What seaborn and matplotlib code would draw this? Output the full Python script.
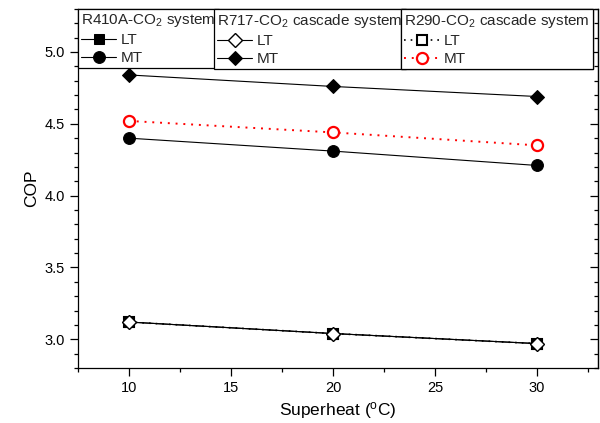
import pandas as pd
import seaborn as sns
import matplotlib.pyplot as plt
from matplotlib.ticker import MultipleLocator

# superheat (degC) and COP
superheat = [10, 20, 30]
r410a_lt = [3.12, 3.04, 2.97]
r410a_mt = [4.40, 4.31, 4.21]
r717_lt = [3.12, 3.04, 2.97]
r717_mt = [4.84, 4.76, 4.69]
r290_lt = [3.12, 3.04, 2.97]
r290_mt = [4.52, 4.44, 4.35]

sns.set_theme(style="ticks")
plt.rcParams['font.family'] = ['Liberation Sans', 'DejaVu Sans']
plt.rcParams['mathtext.fontset'] = 'custom'
plt.rcParams['mathtext.rm'] = 'Liberation Sans'
plt.rcParams['mathtext.it'] = 'Liberation Sans:italic'
plt.rcParams['mathtext.default'] = 'regular'

fig = plt.figure(figsize=(6, 4.23), dpi=100)
ax = fig.add_axes([0.13, 0.13, 0.867, 0.849])

def draw(y, label, **kw):
    sns.lineplot(x=superheat, y=y, ax=ax, label=label, **kw)

draw(r410a_lt, "LT", color="black", lw=0.8, marker="s", markersize=6.5,
     markerfacecolor="black", markeredgecolor="black", zorder=2.2)
draw(r410a_mt, "MT", color="black", lw=0.8, marker="o", markersize=8.5,
     markerfacecolor="black", markeredgecolor="black", zorder=2.2)
draw(r717_lt, "LT", color="black", lw=0.8, marker="D", markersize=7,
     markerfacecolor="white", markeredgecolor="black", markeredgewidth=1.0, zorder=2.3)
draw(r717_mt, "MT", color="black", lw=0.8, marker="D", markersize=7.5,
     markerfacecolor="black", markeredgecolor="black", zorder=2.2)
draw(r290_lt, "LT", color="black", lw=1.2, linestyle=(0, (1, 3)), marker="s", markersize=6.5,
     markerfacecolor="white", markeredgecolor="black", markeredgewidth=1.5, zorder=2.1)
draw(r290_mt, "MT", color="red", lw=1.4, linestyle=(0, (1, 3)), marker="o", markersize=8,
     markerfacecolor="white", markeredgecolor="red", markeredgewidth=1.6, zorder=2.2)

handles, labels = ax.get_legend_handles_labels()
if ax.get_legend() is not None:
    ax.get_legend().remove()

# three boxed legends side by side along the top edge
groups = [("R410A-CO$_2$ system", 0.0),
          ("R717-CO$_2$ cascade system", 0.2615),
          ("R290-CO$_2$ cascade system", 0.621)]
for i, (title, x0) in enumerate(groups):
    leg = ax.legend(handles[2 * i:2 * i + 2], labels[2 * i:2 * i + 2], title=title,
                    loc="upper left", bbox_to_anchor=(x0, 1.0), borderaxespad=0,
                    frameon=True, fancybox=False, edgecolor="black", framealpha=1,
                    fontsize=11, title_fontsize=11, alignment="left",
                    handlelength=2.3, handletextpad=0.3, labelspacing=0.27,
                    borderpad=0.2)
    leg.get_frame().set_linewidth(0.9)
    leg.set_zorder(5)
    ax.add_artist(leg)

ax.set_xlim(7.5, 33)
ax.set_ylim(2.8, 5.3)
ax.xaxis.set_major_locator(MultipleLocator(5))
ax.xaxis.set_minor_locator(MultipleLocator(2.5))
ax.yaxis.set_major_locator(MultipleLocator(0.5))
ax.yaxis.set_minor_locator(MultipleLocator(0.1))
ax.tick_params(which="both", direction="out", color="black", labelcolor="black",
               width=0.9, labelsize=10.5)
ax.tick_params(which="major", length=5.8)
ax.tick_params(which="minor", length=2.9)

right = ax.secondary_yaxis("right")
right.yaxis.set_major_locator(MultipleLocator(0.5))
right.yaxis.set_minor_locator(MultipleLocator(0.1))
right.tick_params(which="both", direction="in", labelright=False, color="black", width=0.9)
right.tick_params(which="major", length=5.8)
right.tick_params(which="minor", length=2.9)
right.spines["right"].set_linewidth(0.9)

for s in ax.spines.values():
    s.set_color("black")
    s.set_linewidth(0.9)

ax.set_xlabel("Superheat ($^{o}$C)", fontsize=12.5, color="black")
ax.set_ylabel("COP", fontsize=12.5, color="black")

fig.savefig("out.png", dpi=100)
